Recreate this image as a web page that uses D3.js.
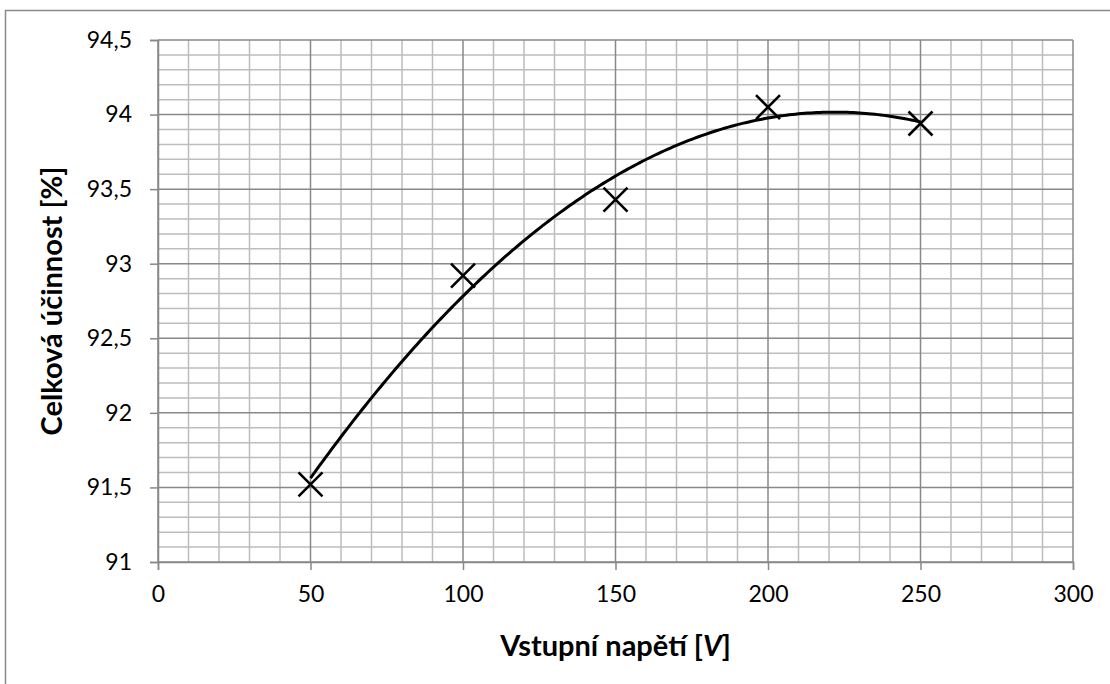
<!DOCTYPE html>
<html>
<head>
<meta charset="utf-8">
<script src="https://cdn.jsdelivr.net/npm/d3@7"></script>
<style>
  body { margin: 0; background: #fff; }
  text { font-family: Lato, "Open Sans", sans-serif; }
</style>
</head>
<body>
<script>
  var w = 1110 //window width
  var h = 684

  // data
  var voltage = [50, 100, 150, 200, 250]
  var efficiency = [91.52, 92.92, 93.43, 94.05, 93.94]
  var xTicks = [0, 50, 100, 150, 200, 250, 300]
  var yTicks = [91, 91.5, 92, 92.5, 93, 93.5, 94, 94.5]

  var plot = { left: 158, right: 1073, top: 40, bottom: 562 }

  //SCALES
  var x = d3.scaleLinear().domain([0, 300]).range([plot.left, plot.right])
  var y = d3.scaleLinear().domain([91, 94.5]).range([plot.bottom, plot.top])

  var svg = d3.select("body")
      .append("svg")
      .attr("width", w)
      .attr("height", h);

  //chart border
  svg.append("rect")
      .attr("x", 5.5).attr("y", 10.5)
      .attr("width", w).attr("height", h)
      .attr("fill", "none")
      .attr("stroke", "#8a8a8a")
      .attr("stroke-width", 1.5);

  //GRID - minor first, major on top
  var minorX = d3.range(0, 301, 10).filter(function (d) { return d % 50 != 0 })
  var minorY = d3.range(910, 946, 1).map(function (d) { return d / 10 })
      .filter(function (d) { return Math.round(d * 10) % 5 != 0 })

  var grid = svg.append("g")

  grid.selectAll(".minx").data(minorX).enter().append("line")
      .attr("x1", function (d) { return x(d) }).attr("x2", function (d) { return x(d) })
      .attr("y1", plot.top).attr("y2", plot.bottom)
      .attr("stroke", "#bdbdbd").attr("stroke-width", 1.5)

  grid.selectAll(".miny").data(minorY).enter().append("line")
      .attr("x1", plot.left).attr("x2", plot.right)
      .attr("y1", function (d) { return y(d) }).attr("y2", function (d) { return y(d) })
      .attr("stroke", "#bdbdbd").attr("stroke-width", 1.5)

  grid.selectAll(".majx").data(xTicks).enter().append("line")
      .attr("x1", function (d) { return x(d) }).attr("x2", function (d) { return x(d) })
      .attr("y1", plot.top).attr("y2", plot.bottom)
      .attr("stroke", "#888888").attr("stroke-width", 1.5)

  grid.selectAll(".majy").data(yTicks).enter().append("line")
      .attr("x1", plot.left).attr("x2", plot.right)
      .attr("y1", function (d) { return y(d) }).attr("y2", function (d) { return y(d) })
      .attr("stroke", "#888888").attr("stroke-width", 1.5)

  //AXES
  var comma = function (d) { return String(d).replace(".", ",") }

  var yAxis = svg.append("g")
      .attr("transform", "translate(" + plot.left + ",0)")
      .call(d3.axisLeft(y).tickValues(yTicks).tickFormat(comma).tickSize(8).tickPadding(18))
  var xAxis = svg.append("g")
      .attr("transform", "translate(0," + plot.bottom + ")")
      .call(d3.axisBottom(x).tickValues(xTicks).tickSize(8).tickPadding(16))

  ;[yAxis, xAxis].forEach(function (a) {
      a.select(".domain").attr("stroke", "#888888").attr("stroke-width", 1.5)
      a.selectAll(".tick line").attr("stroke", "#888888").attr("stroke-width", 1.5)
      a.selectAll("text").attr("font-size", "23px").attr("fill", "#000")
          .style("font-family", "Lato, sans-serif")
  })

  //TRENDLINE - quadratic least squares fit of the data (like Excel's polynomial trendline)
  function quadFit(xs, ys) {
      var n = xs.length, s = [0, 0, 0, 0, 0], t = [0, 0, 0]
      for (var i = 0; i < n; i++) {
          for (var k = 0; k < 5; k++) s[k] += Math.pow(xs[i], k)
          for (var k = 0; k < 3; k++) t[k] += ys[i] * Math.pow(xs[i], k)
      }
      var m = [[s[0], s[1], s[2], t[0]], [s[1], s[2], s[3], t[1]], [s[2], s[3], s[4], t[2]]]
      for (var c = 0; c < 3; c++) {
          for (var r = c + 1; r < 3; r++) {
              var f = m[r][c] / m[c][c]
              for (var k = c; k < 4; k++) m[r][k] -= f * m[c][k]
          }
      }
      var b = [0, 0, 0]
      for (var r = 2; r >= 0; r--) {
          var v = m[r][3]
          for (var k = r + 1; k < 3; k++) v -= m[r][k] * b[k]
          b[r] = v / m[r][r]
      }
      return function (xv) { return b[0] + b[1] * xv + b[2] * xv * xv }
  }
  var fit = quadFit(voltage, efficiency)
  var trend = d3.range(voltage[0], voltage[voltage.length - 1] + 0.5, 1)

  svg.append("path")
      .datum(trend)
      .attr("fill", "none")
      .attr("stroke", "#000")
      .attr("stroke-width", 3)
      .attr("d", d3.line()
          .x(function (d) { return x(d) })
          .y(function (d) { return y(fit(d)) }))

  //MARKERS (X)
  var pts = voltage.map(function (v, i) { return { v: v, e: efficiency[i] } })
  var half = 12
  svg.selectAll(".mark").data(pts).enter().append("path")
      .attr("d", function (d) {
          var cx = x(d.v), cy = y(d.e)
          return "M" + (cx - half) + "," + (cy - half) + "L" + (cx + half) + "," + (cy + half) +
              "M" + (cx - half) + "," + (cy + half) + "L" + (cx + half) + "," + (cy - half)
      })
      .attr("stroke", "#000")
      .attr("stroke-width", 2.6)
      .attr("fill", "none")

  //TITLES
  svg.append("text")
      .attr("x", (plot.left + plot.right) / 2)
      .attr("y", 656)
      .attr("text-anchor", "middle")
      .attr("font-size", "29px")
      .attr("font-weight", "bold")
      .html('Vstupní napětí [<tspan font-style="italic">V</tspan>]')

  svg.append("text")
      .attr("transform", "translate(62," + (plot.top + plot.bottom) / 2 + ") rotate(-90)")
      .attr("text-anchor", "middle")
      .attr("font-size", "29px")
      .attr("font-weight", "bold")
      .text("Celková účinnost [%]")
</script>
</body>
</html>
